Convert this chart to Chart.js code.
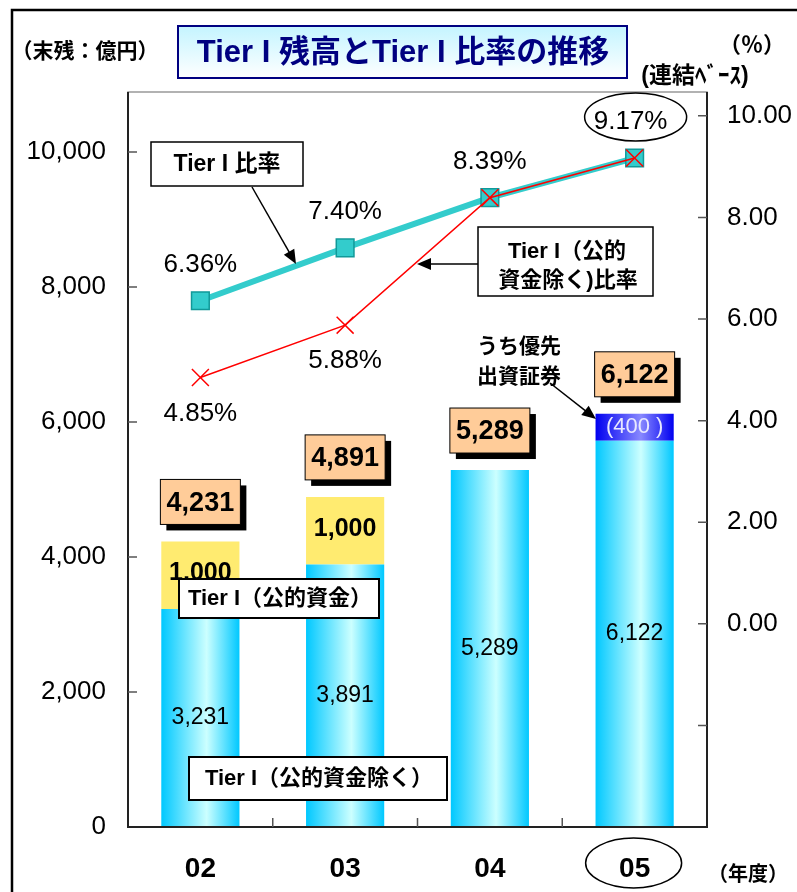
<!DOCTYPE html>
<html>
<head>
<meta charset="utf-8">
<script src="https://cdn.jsdelivr.net/npm/chart.js@4/dist/chart.umd.min.js"></script>
<style>
  body { margin: 0; background: #fff; }
  #wrap { width: 797px; height: 892px; }
</style>
</head>
<body>
<div id="wrap"><canvas id="tierChart" width="797" height="892"></canvas></div>
<script>
// data
const categories = ['02', '03', '04', '05'];
const tier1ExPublic = [3231, 3891, 5289, 5722];  // Tier I (公的資金除く), cyan
const publicFunds = [1000, 1000, 0, 0];          // 公的資金, yellow
const preferredSec = [0, 0, 0, 400];             // うち優先出資証券, blue
const tier1Ratio = [6.36, 7.40, 8.39, 9.17];     // Tier I 比率 (%)
const tier1ExRatio = [4.85, 5.88, 8.39, 9.17];   // Tier I (公的資金除く) 比率 (%)
const leftTicks = [0, 2000, 4000, 6000, 8000, 10000];
const rightTicks = [-4, -2, 0, 2, 4, 6, 8, 10];

const FONT = "'Liberation Sans', 'Noto Sans CJK JP', sans-serif";
const BAR_PCT = 0.54;

function barGradient(edge, mid) {
    return function (context) {
        const chart = context.chart;
        const xs = chart.scales.x;
        if (!xs || !chart.chartArea) return edge;
        const cx = xs.getPixelForValue(context.dataIndex);
        const half = (xs.width / categories.length) * BAR_PCT / 2;
        const g = chart.ctx.createLinearGradient(cx - half, 0, cx + half, 0);
        g.addColorStop(0, edge);
        g.addColorStop(0.58, mid);
        g.addColorStop(1, edge);
        return g;
    };
}

function fmt(v) {
    return v.toLocaleString('en-US');
}

function txt(ctx, s, x, y, font, color, align) {
    ctx.font = font;
    ctx.fillStyle = color || '#000';
    ctx.textAlign = align || 'center';
    ctx.textBaseline = 'middle';
    ctx.fillText(s, x, y);
}

function box(ctx, x, y, w, h, fill, lw, shadow) {
    if (shadow) {
        ctx.fillStyle = '#000';
        ctx.fillRect(x + 6, y + 6, w, h);
    }
    ctx.fillStyle = fill;
    ctx.fillRect(x, y, w, h);
    ctx.lineWidth = lw;
    ctx.strokeStyle = '#000';
    ctx.strokeRect(x, y, w, h);
}

function arrow(ctx, x1, y1, x2, y2) {
    const a = Math.atan2(y2 - y1, x2 - x1);
    ctx.strokeStyle = '#000';
    ctx.fillStyle = '#000';
    ctx.lineWidth = 1.5;
    ctx.beginPath();
    ctx.moveTo(x1, y1);
    ctx.lineTo(x2 - 10 * Math.cos(a), y2 - 10 * Math.sin(a));
    ctx.stroke();
    ctx.beginPath();
    ctx.moveTo(x2, y2);
    ctx.lineTo(x2 - 14 * Math.cos(a) + 6 * Math.sin(a), y2 - 14 * Math.sin(a) - 6 * Math.cos(a));
    ctx.lineTo(x2 - 14 * Math.cos(a) - 6 * Math.sin(a), y2 - 14 * Math.sin(a) + 6 * Math.cos(a));
    ctx.closePath();
    ctx.fill();
}

function ellipse(ctx, cx, cy, rx, ry) {
    ctx.strokeStyle = '#000';
    ctx.lineWidth = 1.5;
    ctx.beginPath();
    ctx.ellipse(cx, cy, rx, ry, 0, 0, Math.PI * 2);
    ctx.stroke();
}

// axes, tick marks drawn inside the plot, labels and callouts
const decorPlugin = {
    id: 'decor',
    afterDatasetsDraw(chart) {
        const ctx = chart.ctx;
        const area = chart.chartArea;
        const sx = chart.scales.x, sy = chart.scales.y, sr = chart.scales.y1;
        const xs = i => sx.getPixelForValue(i);
        ctx.save();

        // plot frame and axes
        ctx.strokeStyle = '#999';
        ctx.lineWidth = 1.5;
        ctx.strokeRect(area.left, area.top, area.right - area.left, area.bottom - area.top);
        ctx.strokeStyle = '#222';
        ctx.lineWidth = 2;
        ctx.beginPath();
        ctx.moveTo(area.left, area.top);
        ctx.lineTo(area.left, area.bottom);
        ctx.lineTo(area.right, area.bottom);
        ctx.lineTo(area.right, area.top);
        ctx.stroke();

        ctx.strokeStyle = '#555';
        ctx.lineWidth = 1.5;
        ctx.beginPath();
        leftTicks.forEach(v => {
            if (v === 0) return;
            const y = sy.getPixelForValue(v);
            ctx.moveTo(area.left, y);
            ctx.lineTo(area.left + 9, y);
        });
        rightTicks.forEach(v => {
            const y = sr.getPixelForValue(v);
            if (y >= area.bottom - 1) return;
            ctx.moveTo(area.right - 9, y);
            ctx.lineTo(area.right, y);
        });
        for (let i = 0; i < categories.length - 1; i++) {
            const x = (xs(i) + xs(i + 1)) / 2;
            ctx.moveTo(x, area.bottom);
            ctx.lineTo(x, area.bottom - 9);
        }
        ctx.stroke();

        // bar value labels
        categories.forEach((c, i) => {
            const x = xs(i);
            const base = tier1ExPublic[i];
            txt(ctx, fmt(base + preferredSec[i]), x, sy.getPixelForValue(base / 2), '23px ' + FONT, '#000');
            if (publicFunds[i] > 0) {
                txt(ctx, fmt(publicFunds[i]), x, sy.getPixelForValue(base + publicFunds[i] / 2) - 2, 'bold 25px ' + FONT, '#000');
            }
            if (preferredSec[i] > 0) {
                txt(ctx, '(' + preferredSec[i] + ' )', x, sy.getPixelForValue(base + preferredSec[i] / 2), '22px ' + FONT, '#E8E8FF');
            }
            const total = base + publicFunds[i] + preferredSec[i];
            const top = sy.getPixelForValue(total);
            box(ctx, x - 40, top - 62, 80, 45, '#FFCC99', 1, true);
            txt(ctx, fmt(total), x, top - 38, 'bold 27px ' + FONT, '#000');
        });

        // ratio labels
        const pf = v => v.toFixed(2) + '%';
        tier1Ratio.forEach((v, i) => {
            const dx = i === 3 ? -4 : 0;
            txt(ctx, pf(v), xs(i) + dx, sr.getPixelForValue(v) - 36, '26px ' + FONT, '#000');
        });
        tier1ExRatio.forEach((v, i) => {
            if (v === tier1Ratio[i]) return;
            txt(ctx, pf(v), xs(i), sr.getPixelForValue(v) + 36, '26px ' + FONT, '#000');
        });
        const last = tier1Ratio.length - 1;
        ellipse(ctx, xs(last) + 1, sr.getPixelForValue(tier1Ratio[last]) - 41, 51, 24);

        // ellipse around the last year
        ellipse(ctx, xs(last) - 1, 863, 48, 25);

        // callout: Tier I 比率
        box(ctx, 151, 142, 152, 44, '#fff', 1.5, false);
        txt(ctx, 'Tier I 比率', 227, 165, 'bold 23px ' + FONT, '#000');
        arrow(ctx, 252, 187, 296, 264);

        // callout: Tier I（公的資金除く）比率
        box(ctx, 478, 227, 175, 69, '#fff', 1.5, false);
        txt(ctx, 'Tier I（公的', 567, 252, 'bold 22px ' + FONT, '#000');
        txt(ctx, '資金除く)比率', 568, 281, 'bold 22px ' + FONT, '#000');
        arrow(ctx, 478, 264, 417, 264);

        // callout: うち優先出資証券
        txt(ctx, 'うち優先', 477, 347, 'bold 21px ' + FONT, '#000', 'left');
        txt(ctx, '出資証券', 477, 377, 'bold 21px ' + FONT, '#000', 'left');
        arrow(ctx, 550, 383, 596, 419);

        // segment name boxes
        box(ctx, 179, 579, 200, 39, '#fff', 2, false);
        txt(ctx, 'Tier I（公的資金）', 280, 599, 'bold 22px ' + FONT, '#000');
        box(ctx, 189, 757, 258, 43, '#fff', 2, false);
        txt(ctx, 'Tier I（公的資金除く）', 319, 779, 'bold 22px ' + FONT, '#000');

        ctx.restore();
    },
    afterDraw(chart) {
        const ctx = chart.ctx;
        ctx.save();
        // outer frame (cut off at right and bottom)
        ctx.strokeStyle = '#000';
        ctx.lineWidth = 2.5;
        ctx.beginPath();
        ctx.moveTo(12, 892);
        ctx.lineTo(12, 10);
        ctx.lineTo(797, 10);
        ctx.stroke();

        // title box
        const g = ctx.createLinearGradient(0, 26, 0, 78);
        g.addColorStop(0, '#C4F4FF');
        g.addColorStop(1, '#FFFFFF');
        ctx.fillStyle = g;
        ctx.fillRect(178, 26, 449, 52);
        ctx.strokeStyle = '#000080';
        ctx.lineWidth = 2;
        ctx.strokeRect(178, 26, 449, 52);
        txt(ctx, 'Tier I 残高とTier I 比率の推移', 403, 53, 'bold 31px ' + FONT, '#000080');

        txt(ctx, '（末残：億円）', 85, 52, 'bold 21px ' + FONT, '#000');
        txt(ctx, '（％）', 752, 46, 'bold 22px ' + FONT, '#000');
        txt(ctx, '(連結ﾍﾞｰｽ)', 695, 77, 'bold 23px ' + FONT, '#000');
        txt(ctx, '（年度）', 748, 875, 'bold 20px ' + FONT, '#000');
        ctx.restore();
    }
};

const ctx = document.getElementById('tierChart').getContext('2d');
new Chart(ctx, {
    type: 'bar',
    data: {
        labels: categories,
        datasets: [
            {
                type: 'line',
                label: 'Tier I（公的資金除く）比率',
                data: tier1ExRatio,
                yAxisID: 'y1',
                order: 0,
                borderColor: '#FF0000',
                borderWidth: 1.5,
                pointStyle: 'crossRot',
                pointRadius: 12,
                pointBorderColor: '#FF0000',
                pointBorderWidth: 1.5,
                tension: 0
            },
            {
                type: 'line',
                label: 'Tier I 比率',
                data: tier1Ratio,
                yAxisID: 'y1',
                order: 1,
                borderColor: '#33CCCC',
                borderWidth: 6,
                pointStyle: 'rect',
                pointRadius: 12.5,
                pointBackgroundColor: '#33CCCC',
                pointBorderColor: '#119999',
                pointBorderWidth: 1.5,
                tension: 0
            },
            {
                label: 'Tier I（公的資金除く）',
                data: tier1ExPublic,
                yAxisID: 'y',
                stack: 'tier',
                order: 2,
                backgroundColor: barGradient('#00C8FF', '#CCFFFF'),
                borderWidth: 0
            },
            {
                label: 'うち優先出資証券',
                data: preferredSec,
                yAxisID: 'y',
                stack: 'tier',
                order: 3,
                backgroundColor: barGradient('#0000F0', '#8888FF'),
                borderWidth: 0
            },
            {
                label: 'Tier I（公的資金）',
                data: publicFunds,
                yAxisID: 'y',
                stack: 'tier',
                order: 4,
                backgroundColor: '#FFEB70',
                borderWidth: 0
            }
        ]
    },
    options: {
        responsive: false,
        animation: false,
        devicePixelRatio: 1,
        layout: { padding: { top: 92, left: 0, right: 0, bottom: 0 } },
        datasets: { bar: { barPercentage: BAR_PCT, categoryPercentage: 1 } },
        plugins: {
            legend: { display: false },
            tooltip: { enabled: false }
        },
        scales: {
            x: {
                stacked: true,
                grid: { display: false },
                border: { display: false },
                ticks: {
                    color: '#000',
                    padding: 17,
                    font: { family: FONT, size: 28, weight: 'bold' }
                },
                afterFit: s => { s.height = 65; }
            },
            y: {
                stacked: true,
                position: 'left',
                min: 0,
                max: 10890,
                grid: { display: false },
                border: { display: false },
                afterBuildTicks: s => { s.ticks = leftTicks.map(v => ({ value: v })); },
                ticks: {
                    color: '#000',
                    padding: 14,
                    font: { family: FONT, size: 26 },
                    callback: v => fmt(v)
                },
                afterFit: s => { s.width = 128; }
            },
            y1: {
                position: 'right',
                min: -4,
                max: 10.47,
                grid: { display: false },
                border: { display: false },
                afterBuildTicks: s => { s.ticks = rightTicks.map(v => ({ value: v })); },
                ticks: {
                    color: '#000',
                    padding: 12,
                    font: { family: FONT, size: 26 },
                    callback: v => (v >= 0 ? v.toFixed(2) : '')
                },
                afterFit: s => { s.width = 90; }
            }
        }
    },
    plugins: [decorPlugin]
});
</script>
</body>
</html>
